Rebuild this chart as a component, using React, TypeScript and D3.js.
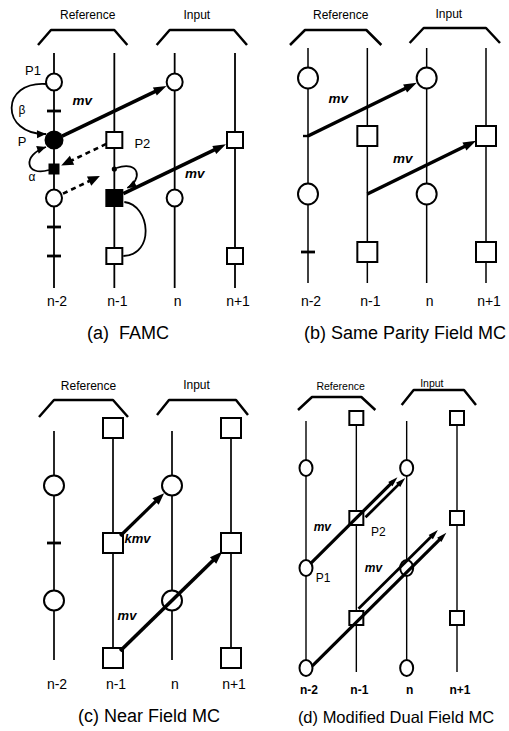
import React from 'react';
import * as d3 from 'd3';

const columns = ['n-2', 'n-1', 'n', 'n+1'];
const groupNames = ['Reference', 'Input'];
const groupColumns = [['n-2', 'n-1'], ['n', 'n+1']];
const captions = ['(a)  FAMC', '(b) Same Parity Field MC', '(c) Near Field MC', '(d) Modified Dual Field MC'];

// field samples: [column, field row, mark]
const famcFields = [
  ['n-2', 0, 'circle'], ['n-2', 1, 'tick'], ['n-2', 2, 'disc'], ['n-2', 3, 'block'],
  ['n-2', 4, 'circle'], ['n-2', 5, 'tick'], ['n-2', 6, 'tick'],
  ['n-1', 2, 'square'], ['n-1', 3, 'dot'], ['n-1', 4, 'bigblock'], ['n-1', 6, 'square'],
  ['n', 0, 'circle'], ['n', 4, 'circle'],
  ['n+1', 2, 'square'], ['n+1', 6, 'square'],
];
const sameParityFields = [
  ['n-2', 0, 'circle'], ['n-2', 2, 'stub'], ['n-2', 4, 'circle'], ['n-2', 6, 'tick'],
  ['n-1', 2, 'square'], ['n-1', 6, 'square'],
  ['n', 0, 'circle'], ['n', 4, 'circle'],
  ['n+1', 2, 'square'], ['n+1', 6, 'square'],
];
const nearFields = [
  ['n-2', 1, 'circle'], ['n-2', 2, 'tick'], ['n-2', 3, 'circle'],
  ['n-1', 0, 'square'], ['n-1', 2, 'square'], ['n-1', 4, 'square'],
  ['n', 1, 'circle'], ['n', 3, 'circle'],
  ['n+1', 0, 'square'], ['n+1', 2, 'square'], ['n+1', 4, 'square'],
];
const dualFields = [
  ['n-2', 1, 'circle'], ['n-2', 3, 'circle'], ['n-2', 5, 'circle'],
  ['n-1', 0, 'square'], ['n-1', 2, 'square'], ['n-1', 4, 'square'],
  ['n', 1, 'circle'], ['n', 3, 'circle'], ['n', 5, 'circle'],
  ['n+1', 0, 'square'], ['n+1', 2, 'square'], ['n+1', 4, 'square'],
];

// motion vectors: [from column, from row, to column, to row, label]
const famcVectors = [
  ['n-2', 2, 'n', 0, 'mv'],
  ['n-1', 4, 'n+1', 2, 'mv'],
  ['n-1', 2, 'n-2', 3, ''],
  ['n-2', 4, 'n-1', 3, ''],
];
const sameParityVectors = [
  ['n-2', 2, 'n', 0, 'mv'],
  ['n-1', 4, 'n+1', 2, 'mv'],
];
const nearVectors = [
  ['n-1', 2, 'n', 1, 'kmv'],
  ['n-1', 4, 'n+1', 2, 'mv'],
];
const dualVectors = [
  ['n-2', 3, 'n', 1, 'mv'],
  ['n-1', 2, 'n', 1, ''],
  ['n-2', 5, 'n+1', 2, 'mv'],
  ['n-1', 4, 'n+1', 2, ''],
];

// FAMC weighting loops: [from column, from row, to column, to row, label]
const famcWeights = [
  ['n-2', 0, 'n-2', 2, 'β'],
  ['n-2', 3, 'n-2', 2, 'α'],
  ['n-1', 3, 'n-1', 4, ''],
  ['n-1', 6, 'n-1', 4, ''],
];

const famcPoints = [['n-2', 0, 'P1'], ['n-2', 2, 'P'], ['n-1', 2, 'P2']];
const dualPoints = [['n-2', 3, 'P1'], ['n-1', 2, 'P2']];

const FONT = 'Liberation Sans, Arial, Helvetica, sans-serif';

const layouts = [
  {
    xRange: [54, 235], y0: 82, dy: 29, top: 53, bottom: 288, lineW: 1.8,
    rx: 8, ry: 8.5, sq: 16, labelY: 301, labelSize: 14, labelWeight: 400,
    brOff: [[-16, 13], [-18, 12]], brInset: [13, 13], brTop: [30, 30], brFoot: [45, 45],
    headY: [15, 15], headDx: [5, -5], headSize: 12,
    caption: [128, 333, 18],
    vec: [
      { p0: 9, p1: 9, off: 0, w: 3.6, head: [13, 4.5] },
      { p0: 10, p1: 10, off: 0, w: 3.6, head: [13, 4.5] },
      { p0: 9, p1: 8, off: 0, w: 2.6, dash: '5,4', head: [12, 5] },
      { p0: 10, p1: 16, off: 0, w: 2.6, dash: '5,4', head: [12, 5] },
    ],
    vecLabel: [[-32, -11], [20, 4]], vecLabelSize: 13.5,
    pointLabel: [[-21, -12], [-32, 1], [28, 3]], pointSize: 13,
    curves: [
      { a: [-7, 2], b: [-8, -6], ca: [-47, -4], cb: [-46, 1], head: true, lbl: [-32, 28] },
      { a: [-5, 1], b: [-8, 7], ca: [-24, 7], cb: [-24, 8], head: true, lbl: [-22, 8] },
      { a: [2, -1], b: [13, -10], ca: [24, -8], cb: [15, -8], head: true },
      { a: [9, 0], b: [10, 4], ca: [32, -1], cb: [26, 3], head: false },
    ],
  },
  {
    xRange: [308, 486], y0: 78, dy: 29, top: 48, bottom: 283, lineW: 1.5,
    rx: 10, ry: 10.5, sq: 20, labelY: 301, labelSize: 14, labelWeight: 400,
    brOff: [[-18, 14], [-17, 14]], brInset: [15, 14], brTop: [30, 28], brFoot: [45, 43],
    headY: [15, 14], headDx: [5, -6], headSize: 12,
    caption: [405, 333, 18],
    vec: [
      { p0: 0, p1: 11, off: 0, w: 3.6, head: [13, 4.5] },
      { p0: 0, p1: 11, off: 0, w: 3.6, head: [13, 4.5] },
    ],
    vecLabel: [[-29, -9], [-24, -7]], vecLabelSize: 13.5,
    pointLabel: [], pointSize: 12,
    curves: [],
  },
  {
    xRange: [54, 231], y0: 428, dy: 57.5, top: 431, bottom: 660, lineW: 1.7,
    rx: 10, ry: 10, sq: 20, labelY: 684, labelSize: 14, labelWeight: 400,
    brOff: [[-15, 15], [-15, 17]], brInset: [15, 12], brTop: [400, 400], brFoot: [417, 415],
    headY: [386, 385], headDx: [5, -6], headSize: 12,
    caption: [149, 716, 18],
    vec: [
      { p0: 10, p1: 11, off: 0, w: 3.2, head: [12, 4.5] },
      { p0: 10, p1: 12, off: 0, w: 3.6, head: [13, 4.5] },
    ],
    vecLabel: [[-5, 24], [-45, 15]], vecLabelSize: 13,
    pointLabel: [], pointSize: 12,
    curves: [],
  },
  {
    xRange: [306, 457], y0: 418, dy: 50, top: 421, bottom: 672, lineW: 1.4,
    rx: 6.5, ry: 8, sq: 14, labelY: 690, labelSize: 12, labelWeight: 700,
    brOff: [[-8, 19], [-5, 19]], brInset: [14, 12], brTop: [397, 390], brFoot: [410, 405],
    headY: [386, 383], headDx: [4, -7], headSize: 10.5,
    caption: [396, 717, 16.5],
    vec: [
      { p0: 6, p1: 13, off: 0, w: 3.2, head: [10, 3] },
      { p0: 7, p1: 8, off: 6, w: 2.8, head: [10, 3] },
      { p0: 6, p1: 18, off: 3, w: 3.2, head: [10, 3] },
      { p0: 8, p1: 22, off: -5, w: 2.8, head: [10, 3] },
    ],
    vecLabel: [[-34, 9], null, [-8, -25], null], vecLabelSize: 12,
    pointLabel: [[17, 10], [22, 14]], pointSize: 12,
    curves: [],
  },
];

function headPath(tx, ty, ux, uy, len, half) {
  const bx = tx - ux * len;
  const by = ty - uy * len;
  return d3.line()([
    [tx, ty],
    [bx - uy * half, by + ux * half],
    [bx + uy * half, by - ux * half],
  ]) + 'Z';
}

function Panel({ L, fields, vectors, weights, points, caption }) {
  const x = d3.scalePoint().domain(columns).range(L.xRange);
  const y = d3.scaleLinear().domain([0, 1]).range([L.y0, L.y0 + L.dy]);

  const mark = (d, i) => {
    const [c, r, kind] = d;
    const cx = x(c);
    const cy = y(r);
    if (kind === 'circle')
      return <ellipse key={i} cx={cx} cy={cy} rx={L.rx} ry={L.ry} fill="#fff" stroke="#000" strokeWidth={2} />;
    if (kind === 'disc') return <ellipse key={i} cx={cx} cy={cy} rx={9.5} ry={9.5} fill="#000" />;
    if (kind === 'square')
      return <rect key={i} x={cx - L.sq / 2} y={cy - L.sq / 2} width={L.sq} height={L.sq} fill="#fff" stroke="#000" strokeWidth={2} />;
    if (kind === 'block') return <rect key={i} x={cx - 5.5} y={cy - 5.5} width={11} height={11} fill="#000" />;
    if (kind === 'bigblock') return <rect key={i} x={cx - 9} y={cy - 9} width={18} height={18} fill="#000" />;
    if (kind === 'tick') return <line key={i} x1={cx - 7} x2={cx + 7} y1={cy} y2={cy} stroke="#000" strokeWidth={2.8} />;
    if (kind === 'stub') return <line key={i} x1={cx - 5} x2={cx + 1} y1={cy} y2={cy} stroke="#000" strokeWidth={2.4} />;
    if (kind === 'dot') return <circle key={i} cx={cx} cy={cy} r={2.6} fill="#000" />;
    return null;
  };

  const vecs = vectors.map((v, i) => {
    const s = L.vec[i];
    const x1 = x(v[0]), y1 = y(v[1]), x2 = x(v[2]), y2 = y(v[3]);
    const len = Math.hypot(x2 - x1, y2 - y1);
    const ux = (x2 - x1) / len, uy = (y2 - y1) / len;
    // perpendicular offset, positive = below/right
    const px = -uy, py = ux;
    const sign = px + py > 0 ? 1 : -1;
    const ox = px * s.off * sign, oy = py * s.off * sign;
    const sx = x1 + ux * s.p0 + ox, sy = y1 + uy * s.p0 + oy;
    const tx = x2 - ux * s.p1 + ox, ty = y2 - uy * s.p1 + oy;
    const ex = tx - ux * s.head[0] * 0.6, ey = ty - uy * s.head[0] * 0.6;
    const lbl = L.vecLabel[i];
    return (
      <g key={i}>
        <line x1={sx} y1={sy} x2={ex} y2={ey} stroke="#000" strokeWidth={s.w} strokeDasharray={s.dash || null} />
        <path d={headPath(tx, ty, ux, uy, s.head[0], s.head[1])} fill="#000" />
        {v[4] && lbl ? (
          <text x={(x1 + x2) / 2 + lbl[0]} y={(y1 + y2) / 2 + lbl[1]} fontFamily={FONT} fontSize={L.vecLabelSize}
            fontStyle="italic" fontWeight="bold" textAnchor="middle" dominantBaseline="central">{v[4]}</text>
        ) : null}
      </g>
    );
  });

  const curves = weights.map((w, i) => {
    const g = L.curves[i];
    const ax = x(w[0]) + g.a[0], ay = y(w[1]) + g.a[1];
    const bx = x(w[2]) + g.b[0], by = y(w[3]) + g.b[1];
    const c2x = bx + g.cb[0], c2y = by + g.cb[1];
    const p = d3.path();
    p.moveTo(ax, ay);
    p.bezierCurveTo(ax + g.ca[0], ay + g.ca[1], c2x, c2y, bx, by);
    const dl = Math.hypot(bx - c2x, by - c2y);
    const ux = (bx - c2x) / dl, uy = (by - c2y) / dl;
    return (
      <g key={i}>
        <path d={p.toString()} fill="none" stroke="#000" strokeWidth={1.8} />
        {g.head ? <path d={headPath(bx, by, ux, uy, 9, 4)} fill="#000" /> : null}
        {w[4] ? (
          <text x={x(w[0]) + g.lbl[0]} y={y(w[1]) + g.lbl[1]} fontFamily={FONT} fontSize={12}
            textAnchor="middle" dominantBaseline="central">{w[4]}</text>
        ) : null}
      </g>
    );
  });

  return (
    <g>
      {groupNames.map((name, gi) => {
        const cols = groupColumns[gi];
        const xl = x(cols[0]) + L.brOff[gi][0];
        const xr = x(cols[1]) + L.brOff[gi][1];
        const pts = [
          [xl, L.brFoot[gi]],
          [xl + L.brInset[gi], L.brTop[gi]],
          [xr - L.brInset[gi], L.brTop[gi]],
          [xr, L.brFoot[gi]],
        ];
        return (
          <g key={name}>
            <path d={d3.line()(pts)} fill="none" stroke="#000" strokeWidth={2.5} strokeLinejoin="round" />
            <text x={(xl + xr) / 2 + L.headDx[gi]} y={L.headY[gi]} fontFamily={FONT} fontSize={L.headSize}
              textAnchor="middle" dominantBaseline="central">{name}</text>
          </g>
        );
      })}
      {columns.map(c => (
        <g key={c}>
          <line x1={x(c)} x2={x(c)} y1={L.top} y2={L.bottom} stroke="#000" strokeWidth={L.lineW} />
          <text x={x(c) + 3} y={L.labelY} fontFamily={FONT} fontSize={L.labelSize} fontWeight={L.labelWeight}
            textAnchor="middle" dominantBaseline="central">{c}</text>
        </g>
      ))}
      {curves}
      {fields.map(mark)}
      {vecs}
      {points.map((p, i) => (
        <text key={i} x={x(p[0]) + L.pointLabel[i][0]} y={y(p[1]) + L.pointLabel[i][1]} fontFamily={FONT}
          fontSize={L.pointSize} textAnchor="middle" dominantBaseline="central">{p[2]}</text>
      ))}
      <text x={L.caption[0]} y={L.caption[1]} fontFamily={FONT} fontSize={L.caption[2]} textAnchor="middle"
        dominantBaseline="central" style={{ whiteSpace: 'pre' }}>{caption}</text>
    </g>
  );
}

export default function App() {
  return (
    <svg width={509} height={731} style={{ position: 'absolute', left: 0, top: 0, background: '#fff' }}>
      <rect width={509} height={731} fill="#fff" />
      <Panel L={layouts[0]} fields={famcFields} vectors={famcVectors} weights={famcWeights} points={famcPoints} caption={captions[0]} />
      <Panel L={layouts[1]} fields={sameParityFields} vectors={sameParityVectors} weights={[]} points={[]} caption={captions[1]} />
      <Panel L={layouts[2]} fields={nearFields} vectors={nearVectors} weights={[]} points={[]} caption={captions[2]} />
      <Panel L={layouts[3]} fields={dualFields} vectors={dualVectors} weights={[]} points={dualPoints} caption={captions[3]} />
    </svg>
  );
}
